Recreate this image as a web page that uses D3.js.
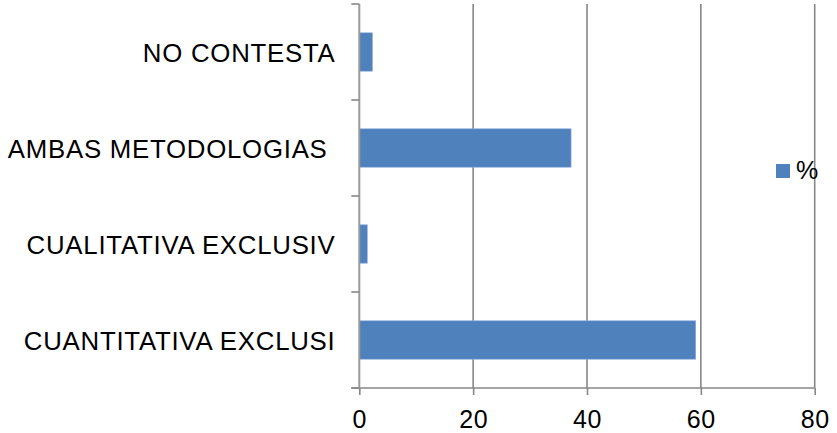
<!DOCTYPE html>
<html>
<head>
<meta charset="utf-8">
<script src="https://cdn.jsdelivr.net/npm/d3@7/dist/d3.min.js"></script>
<style>
  html, body { margin: 0; padding: 0; background: #fff; }
  svg { display: block; font-family: "Liberation Sans", Arial, sans-serif; }
  text { white-space: pre; }
</style>
</head>
<body>
<svg id="chart" width="837" height="433"></svg>
<script>
// Categories from top to bottom, with their share in percent
const categories = ["NO CONTESTA", "AMBAS METODOLOGIAS ", "CUALITATIVA EXCLUSIV", "CUANTITATIVA EXCLUSI"];
const values = [2.3, 37.2, 1.4, 59.1];
const xTicks = [0, 20, 40, 60, 80];
const seriesName = "%";

const svg = d3.select("#chart");
const plotLeft = 359.3, plotRight = 814.7, plotTop = 4, plotBottom = 388;
const gridColor = "#878787";
const barColor = "#4F81BD";

const x = d3.scaleLinear().domain([0, 80]).range([plotLeft, plotRight]);
const y = d3.scaleBand().domain(categories).range([plotTop, plotBottom]).paddingInner(0.6).paddingOuter(0.3);

// vertical gridlines
svg.append("g")
  .selectAll("line")
  .data(xTicks.slice(1))
  .join("line")
  .attr("x1", d => x(d)).attr("x2", d => x(d))
  .attr("y1", plotTop).attr("y2", plotBottom)
  .attr("stroke", gridColor).attr("stroke-width", 1.6);

// bars
svg.append("g")
  .selectAll("rect")
  .data(categories)
  .join("rect")
  .attr("x", x(0))
  .attr("y", d => y(d))
  .attr("width", (d, i) => x(values[i]) - x(0))
  .attr("height", y.bandwidth())
  .attr("fill", barColor)
  .attr("stroke", "#8EAADB").attr("stroke-width", 0.6);

// x axis
const xAxis = svg.append("g")
  .attr("transform", `translate(0,${plotBottom})`)
  .call(d3.axisBottom(x).tickValues(xTicks).tickSize(7).tickSizeOuter(0).tickPadding(15));
xAxis.select(".domain").remove();
xAxis.append("line")
  .attr("x1", plotLeft - 8).attr("x2", plotRight)
  .attr("y1", 0).attr("y2", 0)
  .attr("stroke", gridColor).attr("stroke-width", 1.6);
xAxis.selectAll(".tick line").attr("stroke", gridColor).attr("stroke-width", 1.6);
xAxis.selectAll(".tick text")
  .attr("fill", "#000").attr("font-size", 25)
  .attr("letter-spacing", 0.6)
  .attr("font-family", "Liberation Sans, Arial, sans-serif");

// y axis: boundaries between categories carry the tick marks
const bounds = d3.range(categories.length + 1).map(i => plotTop + i * (plotBottom - plotTop) / categories.length);
const yAxisG = svg.append("g");
yAxisG.append("line")
  .attr("x1", plotLeft).attr("x2", plotLeft)
  .attr("y1", plotTop).attr("y2", plotBottom)
  .attr("stroke", "#9a9a9a").attr("stroke-width", 2);
yAxisG.selectAll("line.tk")
  .data(bounds)
  .join("line")
  .attr("class", "tk")
  .attr("x1", plotLeft - 8).attr("x2", plotLeft)
  .attr("y1", d => d).attr("y2", d => d)
  .attr("stroke", gridColor).attr("stroke-width", 1.6);
yAxisG.selectAll("text")
  .data(categories)
  .join("text")
  .attr("x", 335.5)
  .attr("y", d => y(d) + y.bandwidth() / 2)
  .attr("dy", "0.37em")
  .attr("text-anchor", "end")
  .attr("font-size", 25.8)
  .attr("letter-spacing", 0.75)
  .attr("fill", "#000")
  .text(d => d);

// legend
const legend = svg.append("g").attr("transform", "translate(776,164)");
legend.append("rect").attr("width", 14).attr("height", 14).attr("fill", barColor);
legend.append("text").attr("x", 20).attr("y", 15).attr("font-size", 25).attr("fill", "#000").text(seriesName);
</script>
</body>
</html>
